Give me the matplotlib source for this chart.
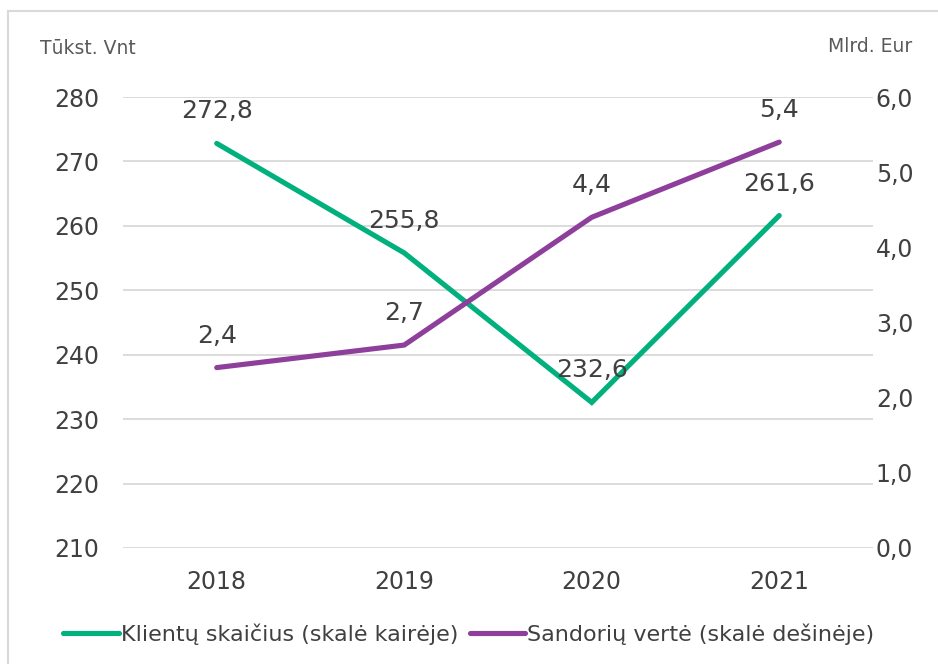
import matplotlib.pyplot as plt
from matplotlib.lines import Line2D

# data
years = ['2018', '2019', '2020', '2021']
clients = [272.8, 255.8, 232.6, 261.6]      # tūkst. vnt, left scale
value = [2.4, 2.7, 4.4, 5.4]                # mlrd. eur, right scale
left_ticks = [210, 220, 230, 240, 250, 260, 270, 280]
right_ticks = [0, 1, 2, 3, 4, 5, 6]

green = '#00B07D'
purple = '#8E3F9B'
txt = '#404040'
grid_c = '#D9D9D9'

def lt(v, d=1):
    return f'{v:.{d}f}'.replace('.', ',')

fig = plt.figure(figsize=(9.38, 6.64), dpi=100)
ax = fig.add_axes([0.1311, 0.1747, 0.7996, 0.6792])
ax2 = ax.twinx()

x = range(len(years))
ax.plot(x, clients, color=green, lw=3.7, solid_capstyle='round', solid_joinstyle='miter', zorder=3)
ax2.plot(x, value, color=purple, lw=3.7, solid_capstyle='round', solid_joinstyle='miter', zorder=3)

for i, v in enumerate(clients):
    ax.annotate(lt(v), (i, v), xytext=(0, 23), textcoords='offset points',
                ha='center', va='center', fontsize=18, color=txt)
for i, v in enumerate(value):
    ax2.annotate(lt(v), (i, v), xytext=(0, 23), textcoords='offset points',
                 ha='center', va='center', fontsize=18, color=txt)

ax.set_xlim(-0.5, 3.5)
ax.set_ylim(210, 280)
ax2.set_ylim(0, 6)
ax.set_yticks(left_ticks)
ax.set_yticklabels([str(t) for t in left_ticks])
ax2.set_yticks(right_ticks)
ax2.set_yticklabels([lt(t) for t in right_ticks])
ax.set_xticks(list(x))
ax.set_xticklabels(years)

ax.grid(axis='y', color=grid_c, lw=1.3)
ax.set_axisbelow(True)
for a in (ax, ax2):
    for s in a.spines.values():
        s.set_visible(False)
ax.tick_params(axis='y', length=0, pad=17, labelsize=17, labelcolor=txt)
ax.tick_params(axis='x', length=0, pad=16, labelsize=17, labelcolor=txt)
ax2.tick_params(axis='y', length=0, pad=2, labelsize=17, labelcolor=txt)

fig.text(40 / 938, 1 - 48 / 664, 'Tūkst. Vnt', fontsize=13.5, color='#595959', va='center', ha='left')
fig.text(912 / 938, 1 - 46 / 664, 'Mlrd. Eur', fontsize=13.5, color='#595959', va='center', ha='right')

handles = [Line2D([], [], color=green, lw=3.7, solid_capstyle='round'),
           Line2D([], [], color=purple, lw=3.7, solid_capstyle='round')]
fig.legend(handles, ['Klientų skaičius (skalė kairėje)', 'Sandorių vertė (skalė dešinėje)'],
           loc='center', bbox_to_anchor=(0.5, 1 - 634 / 664), ncol=2, frameon=False,
           fontsize=16, labelcolor=txt, handlelength=2.5, handletextpad=0.1, columnspacing=0.5)

# outer frame (top and left edges visible)
fig.add_artist(Line2D([8 / 938, 8 / 938], [0, 1 - 11 / 664], color=grid_c, lw=1.5))
fig.add_artist(Line2D([8 / 938, 1], [1 - 11 / 664, 1 - 11 / 664], color=grid_c, lw=1.5))

fig.savefig('out.png', dpi=100)
